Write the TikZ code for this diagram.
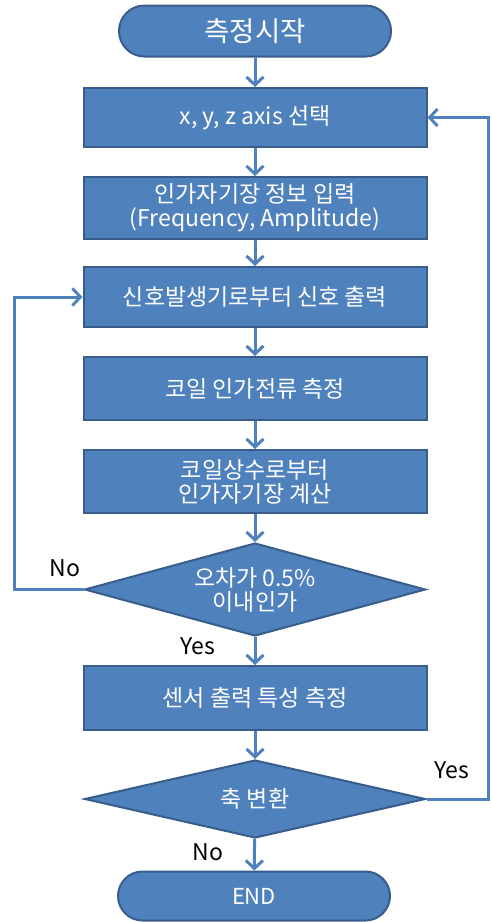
\documentclass[tikz,border=0pt]{standalone}
\usepackage{fontspec}
\setmainfont{Noto Sans CJK KR}
\usetikzlibrary{shapes.geometric,shapes.misc,arrows.meta}
\definecolor{fillblue}{HTML}{4F81BD}
\definecolor{edgeblue}{HTML}{385D8A}
\definecolor{arrowblue}{HTML}{4F81BD}
\begin{document}
\begin{tikzpicture}[x=1pt,y=-1pt,
  base/.style={fill=fillblue, draw=edgeblue, line width=2pt, text=white, align=center, inner sep=0pt, font=\fontsize{23}{24}\selectfont},
  procbox/.style={base, rectangle, minimum width=343pt, minimum height=61pt},
  termbox/.style={base, rounded rectangle, minimum width=272pt, minimum height=51pt},
  decbox/.style={base, diamond, aspect=3.6, minimum width=341pt},
  arr/.style={draw=arrowblue, line width=3pt, -{Straight Barb[length=8pt,width=17pt,line width=3pt]}},
  lab/.style={font=\fontsize{23}{24}\selectfont, text=black, inner sep=0pt}
]
\useasboundingbox (0,0) rectangle (492,922);
\node[termbox, font=\fontsize{27.5}{30}\selectfont] (start) at (255,31) {측정시작};
\node[procbox, minimum height=59pt] (b1) at (255,117.5) {x, y, z axis 선택};
\node[procbox, minimum height=62pt] (b2) at (255,208) {인가자기장 정보 입력\\(Frequency, Amplitude)};
\node[procbox, minimum height=60pt] (b3) at (255,297) {신호발생기로부터 신호 출력};
\node[procbox, minimum height=63pt] (b4) at (255,388.5) {코일 인가전류 측정};
\node[procbox, minimum height=63pt] (b5) at (255,481.5) {코일상수로부터\\인가자기장 계산};
\node[decbox, minimum height=93pt] (d1) at (255,589.5) {오차가 0.5\%\\이내인가};
\node[procbox, minimum height=64pt] (b6) at (255,698) {센서 출력 특성 측정};
\node[decbox, minimum height=78pt] (d2) at (255,799) {축 변환};
\node[termbox, minimum height=49pt, font=\fontsize{22}{24}\selectfont] (end) at (254,896) {END};
\coordinate (ll) at (14,297);
\coordinate (rl) at (488,117.5);
\draw[arr] (start) -- (b1);
\draw[arr] (b1) -- (b2);
\draw[arr] (b2) -- (b3);
\draw[arr] (b3) -- (b4);
\draw[arr] (b4) -- (b5);
\draw[arr] (b5) -- (d1);
\draw[arr] (d1) -- (b6);
\draw[arr] (b6) -- (d2);
\draw[arr] (d2) -- (end);
\draw[arr] (d1.west) -| (ll) -- (b3.west);
\draw[arr] (d2.east) -| (rl) -- (b1.east);
\node[lab] (no1) at (65,568) {No};
\node[lab] (yes1) at (198,646) {Yes};
\node[lab] (yes2) at (452,770) {Yes};
\node[lab] (no2) at (208,852) {No};
\end{tikzpicture}
\end{document}
